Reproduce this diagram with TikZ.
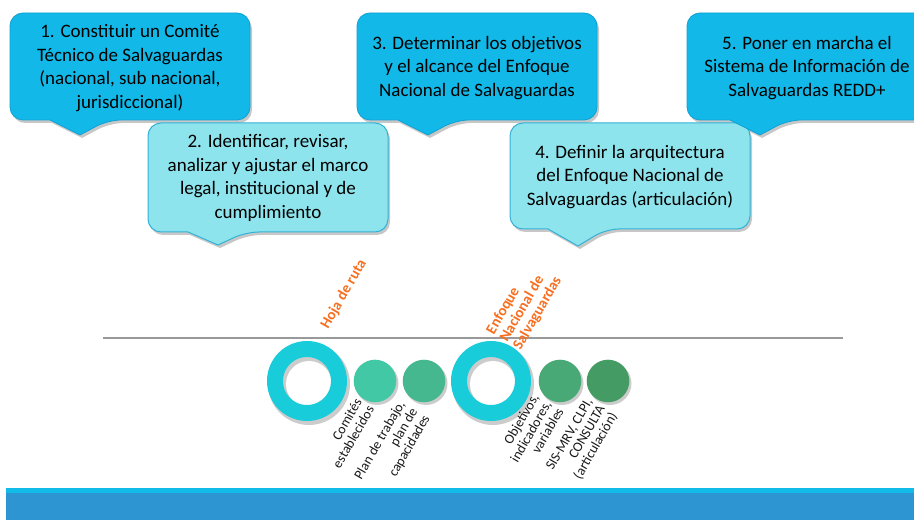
\documentclass[tikz,border=0pt]{standalone}
\usepackage{fontspec}
\setmainfont{Carlito}
\definecolor{brightbox}{RGB}{18,185,232}
\definecolor{brightedge}{RGB}{14,160,210}
\definecolor{lightbox}{RGB}{142,228,236}
\definecolor{lightedge}{RGB}{50,178,215}
\definecolor{ringcol}{RGB}{24,204,218}
\definecolor{circA}{RGB}{66,200,165}
\definecolor{circB}{RGB}{70,184,144}
\definecolor{circC}{RGB}{72,168,118}
\definecolor{circD}{RGB}{68,156,100}
\definecolor{orangelab}{RGB}{247,110,30}
\definecolor{barcyan}{RGB}{18,188,232}
\definecolor{barblue}{RGB}{45,150,210}
\newcommand\mycallout[6]{(#5-30,#2) [rounded corners=13pt] -- (#1,#2) -- (#1,#4) -- (#3,#4) -- (#3,#2) -- (#5+28,#2) [sharp corners] -- (#5,#6) -- cycle}
\tikzset{
  boxtext/.style={font=\fontsize{19}{23.4}\selectfont, align=center, text=black, inner sep=0pt},
  brightcall/.style={fill=brightbox, draw=brightedge, line width=0.8pt},
  lightcall/.style={fill=lightbox, draw=lightedge, line width=1pt},
  callshadow/.style={fill=black, opacity=0.22},
  steplab/.style={font=\fontsize{13.8}{14.3}\selectfont, rotate=60, align=right, anchor=north east, inner sep=0pt, text=black!90},
  phaselab/.style={font=\bfseries\fontsize{15}{15.5}\selectfont, rotate=60, text=orangelab, inner sep=0pt},
  ringstyle/.style={draw=ringcol, line width=16pt},
  dotshadow/.style={fill=black, opacity=0.2}
}
\begin{document}
\begin{tikzpicture}[x=1pt,y=1pt]
\useasboundingbox (0,0) rectangle (914,520);
\begin{scope}
\clip (0,0) rectangle (914,520);
% shadows of callouts
\begin{scope}[shift={(2,-3)}]
\fill[callshadow] \mycallout{10}{400}{250}{507}{80}{385};
\fill[callshadow] \mycallout{148}{288}{388}{397}{218}{275};
\fill[callshadow] \mycallout{357}{400}{597}{507}{428}{385};
\fill[callshadow] \mycallout{510}{291}{750}{397}{578}{274};
\fill[callshadow] \mycallout{687}{400}{927}{507}{760}{385};
\end{scope}
% callouts
\draw[brightcall] \mycallout{10}{400}{250}{507}{80}{385};
\draw[lightcall] \mycallout{148}{288}{388}{397}{218}{275};
\draw[brightcall] \mycallout{357}{400}{597}{507}{428}{385};
\draw[lightcall] \mycallout{510}{291}{750}{397}{578}{274};
\draw[brightcall] \mycallout{687}{400}{927}{507}{760}{385};
\node[boxtext] (t1) at (130,452) {1. Constituir un Comité\\Técnico de Salvaguardas\\(nacional, sub nacional,\\jurisdiccional)};
\node[boxtext] (t2) at (268,342) {2. Identificar, revisar,\\analizar y ajustar el marco\\legal, institucional y de\\cumplimiento};
\node[boxtext] (t3) at (477,452) {3. Determinar los objetivos\\y el alcance del Enfoque\\Nacional de Salvaguardas};
\node[boxtext] (t4) at (630,343) {4. Definir la arquitectura\\del Enfoque Nacional de\\Salvaguardas (articulación)};
\node[boxtext] (t5) at (807,452) {5. Poner en marcha el\\Sistema de Información de\\Salvaguardas REDD+};
\end{scope}
% timeline
\draw[draw=black!40, line width=1.3pt] (103,182) -- (843,182);
% rings and dots shadows
\fill[dotshadow] (309,136) circle (41);
\fill[white] (309,136) circle (23);
\fill[dotshadow] (493,136) circle (41);
\fill[white] (493,136) circle (23);
\foreach \cx in {375,424,560,608} {\fill[dotshadow] (\cx+2,136.5) circle (21.5);}
\draw[ringstyle] (307,139) circle (32);
\draw[ringstyle] (491,139) circle (32);
\node[circle, fill=circA, minimum size=42.6pt, inner sep=0pt] (c1) at (375,139) {};
\node[circle, fill=circB, minimum size=42.6pt, inner sep=0pt] (c2) at (424,139) {};
\node[circle, fill=circC, minimum size=42.6pt, inner sep=0pt] (c3) at (560,139) {};
\node[circle, fill=circD, minimum size=42.6pt, inner sep=0pt] (c4) at (608,139) {};
% step labels
\node[steplab] (l1) at (354,123) {Comités\\establecidos};
\node[steplab] (l2) at (397,121) {Plan de trabajo,\\plan de\\capacidades};
\node[steplab] (l3) at (531,128) {Objetivos,\\indicadores,\\variables};
\node[steplab] (l4) at (585,123) {SIS-MRV, CLPI,\\CONSULTA\\(articulación)};
% phase labels
\node[phaselab, anchor=base west] (p1) at (328,190) {Hoja de ruta};
\node[phaselab, anchor=north west, align=left] (p2) at (484.6,190) {Enfoque\\Nacional de\\Salvaguardas};
% bottom bar
\fill[barcyan] (6,27.3) rectangle (914,32.3);
\fill[barblue] (6,0) rectangle (914,27.3);
\end{tikzpicture}
\end{document}
